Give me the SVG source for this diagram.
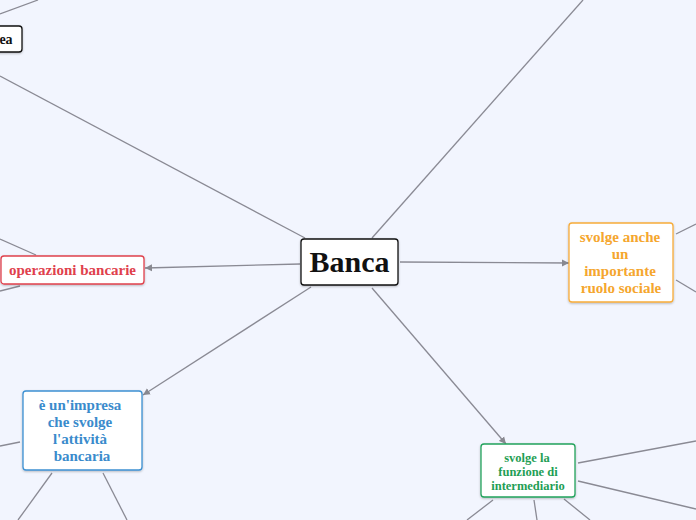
<svg xmlns="http://www.w3.org/2000/svg" width="696" height="520" viewBox="0 0 696 520">
<defs>
<marker id="ah" markerWidth="8" markerHeight="8" refX="7" refY="4" orient="auto" markerUnits="userSpaceOnUse">
<path d="M0,0.5 L7,4 L0,7.5 Z" fill="#888890"/>
</marker>
<filter id="sh" x="-10%" y="-10%" width="120%" height="130%">
<feDropShadow dx="0" dy="1" stdDeviation="0.8" flood-color="#000" flood-opacity="0.25"/>
</filter>
</defs>
<style>
.ln{stroke:#8a8a94;stroke-width:1.3;fill:none}
.bx{fill:#fff;stroke-width:1.3;filter:url(#sh)}
.t{font-family:"Liberation Serif","Times New Roman",serif;font-weight:bold;text-anchor:middle}
</style>
<rect width="696" height="520" fill="#f2f5fe"/>
<g id="connectors">
<line class="ln" x1="0" y1="14" x2="38" y2="0"/>
<line class="ln" x1="0" y1="76" x2="305" y2="238"/>
<line class="ln" x1="372" y1="238" x2="583" y2="0"/>
<line class="ln" x1="300" y1="264" x2="145" y2="268" marker-end="url(#ah)"/>
<line class="ln" x1="36" y1="255" x2="0" y2="239"/>
<line class="ln" x1="20" y1="286" x2="0" y2="291"/>
<line class="ln" x1="400" y1="262" x2="569" y2="263" marker-end="url(#ah)"/>
<line class="ln" x1="676" y1="234" x2="696" y2="224"/>
<line class="ln" x1="676" y1="280" x2="696" y2="292"/>
<line class="ln" x1="311" y1="287" x2="143" y2="395" marker-end="url(#ah)"/>
<line class="ln" x1="20" y1="442" x2="0" y2="446"/>
<line class="ln" x1="52" y1="473" x2="18" y2="520"/>
<line class="ln" x1="103" y1="473" x2="127" y2="520"/>
<line class="ln" x1="372" y1="288" x2="506" y2="444" marker-end="url(#ah)"/>
<line class="ln" x1="578" y1="463" x2="696" y2="441"/>
<line class="ln" x1="578" y1="481" x2="696" y2="509"/>
<line class="ln" x1="493" y1="500" x2="467" y2="520"/>
<line class="ln" x1="534" y1="500" x2="537" y2="520"/>
<line class="ln" x1="564" y1="499" x2="590" y2="520"/>
</g>
<g id="node-ea">
<rect class="bx" x="-10" y="26" width="32" height="26" rx="3" stroke="#111"/>
<text class="t" x="6" y="44" font-size="14" fill="#111">ea</text>
</g>
<g id="node-banca">
<rect class="bx" x="301" y="239" width="97" height="46" rx="3" stroke="#111"/>
<text class="t" x="349.5" y="272" font-size="30" fill="#111">Banca</text>
</g>
<g id="node-operazioni">
<rect class="bx" x="1" y="256" width="143" height="28" rx="3" stroke="#e0404c"/>
<text class="t" x="72.5" y="275" font-size="15" fill="#e0404c">operazioni bancarie</text>
</g>
<g id="node-sociale">
<rect class="bx" x="569" y="223" width="104" height="79" rx="3" stroke="#f7ac3a"/>
<text class="t" font-size="15" fill="#f5a62e"><tspan x="620" y="242">svolge anche</tspan><tspan x="620" y="259">un</tspan><tspan x="620" y="276">importante</tspan><tspan x="621" y="293">ruolo sociale</tspan></text>
</g>
<g id="node-impresa">
<rect class="bx" x="23" y="391" width="119" height="79" rx="3" stroke="#3c90d2"/>
<text class="t" font-size="15" fill="#3a8bcc"><tspan x="80" y="410">è un'impresa</tspan><tspan x="80" y="427">che svolge</tspan><tspan x="80" y="444">l'attività</tspan><tspan x="82" y="461">bancaria</tspan></text>
</g>
<g id="node-intermediario">
<rect class="bx" x="481" y="444" width="94" height="53" rx="3" stroke="#22a35c"/>
<text class="t" font-size="12.5" fill="#1f9e55"><tspan x="527" y="462">svolge la</tspan><tspan x="528" y="476">funzione di</tspan><tspan x="528" y="490">intermediario</tspan></text>
</g>
</svg>
